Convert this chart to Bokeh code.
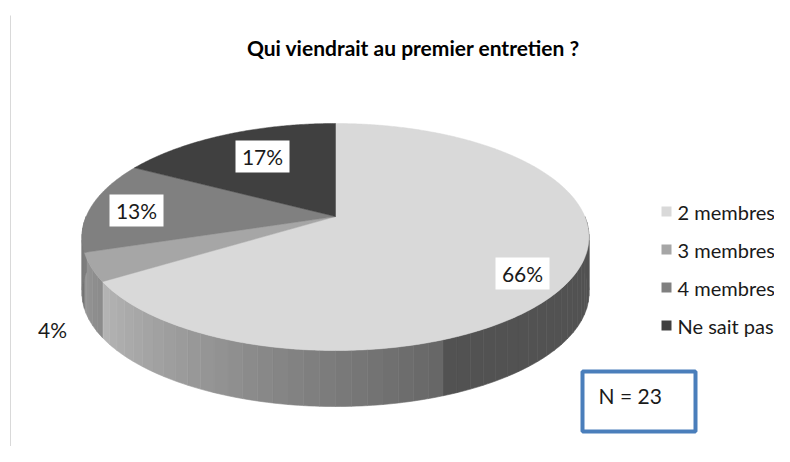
import numpy as np
from bokeh.plotting import figure
from bokeh.models import Range1d
from bokeh.embed import file_html
from bokeh.resources import INLINE
from bokeh.core.properties import value

# ---------------- data ----------------
title = "Qui viendrait au premier entretien ?"
categories = ["2 membres", "3 membres", "4 membres", "Ne sait pas"]
shares = [66, 4, 13, 17]
pct_labels = ["66%", "4%", "13%", "17%"]
colors = ["#d9d9d9", "#a6a6a6", "#808080", "#404040"]
n_text = "N = 23"

# ---------------- layout ----------------
W, H = 774, 446
FONT = "Lato"
p = figure(width=W, height=H, x_range=Range1d(0, W), y_range=Range1d(H, 0),
           output_backend="svg", toolbar_location=None, min_border=0)
p.axis.visible = False
p.grid.visible = False
p.outline_line_color = None
p.background_fill_color = "white"
p.border_fill_color = "white"

# perspective projection of the pie disc (screen-like coordinates)
CX, A, C0, D0, K, DEPTH = 335.0, 249.3, 216.0, -70.8, 0.1806, 56.0


def proj(theta_deg, r=1.0):
    t = np.radians(theta_deg)
    u = r * np.sin(t)
    v = r * np.cos(t)
    w = 1 + K * v
    return CX + A * u / w, (C0 + D0 * v) / w


def hex_gray(g):
    g = int(max(0, min(255, round(g))))
    return "#%02x%02x%02x" % (g, g, g)


def rgb_of(h):
    return int(h[1:3], 16)


total = float(sum(shares))
bounds = np.concatenate([[0.0], np.cumsum(shares) / total * 360.0])

# chart frame line on the left
p.line([10, 10], [15, 446], line_color="#d9d9d9", line_width=1)

# ---- sides (front half only) ----
side_xs, side_ys, side_cols = [], [], []
for i in range(len(shares)):
    a0, a1 = max(bounds[i], 90.0), min(bounds[i + 1], 270.0)
    if a1 <= a0:
        continue
    base = rgb_of(colors[i])
    edges = np.arange(a0, a1, 3.0).tolist() + [a1]
    for s0, s1 in zip(edges[:-1], edges[1:]):
        ts = np.linspace(s0, s1, 4)
        tx, ty = proj(ts)
        xs = list(tx) + list(tx[::-1])
        ys = list(ty) + list((ty + DEPTH)[::-1])
        mid = 0.5 * (s0 + s1)
        f = 0.38 if mid < 160 else 0.47 + (mid - 160) * 0.00473
        side_xs.append(xs)
        side_ys.append(ys)
        side_cols.append(hex_gray(base * f))
p.patches(side_xs, side_ys, fill_color=side_cols, line_color=side_cols, line_width=0.6)

# ---- top faces ----
top_xs, top_ys = [], []
for i in range(len(shares)):
    ts = np.linspace(bounds[i], bounds[i + 1], max(3, int((bounds[i + 1] - bounds[i]) * 2)))
    tx, ty = proj(ts)
    top_xs.append([CX] + list(tx))
    top_ys.append([C0] + list(ty))
p.patches(top_xs, top_ys, fill_color=colors, line_color=colors, line_width=0.5)

# ---- percentage labels ----
label_pos = {"66%": (522, 273), "4%": (52, 329), "13%": (136, 210), "17%": (262, 156)}
boxed = ["66%", "13%", "17%"]
bx, by = [], []
for lab in boxed:
    x, y = label_pos[lab]
    bx.append([x - 27, x + 27, x + 27, x - 27])
    by.append([y - 16, y - 16, y + 16, y + 16])
p.patches(bx, by, fill_color="white", line_color=None)
p.text([label_pos[l][0] for l in pct_labels], [label_pos[l][1] for l in pct_labels], text=pct_labels,
       text_font=value(FONT), text_font_size="21px", text_align="center", text_baseline="middle",
       text_color="#1a1a1a")

# ---- title ----
p.text([413], [47], text=[title], text_font=value(FONT), text_font_size="21px", text_font_style="bold",
       text_align="center", text_baseline="middle", text_color="#000000")

# ---- legend ----
ly = [211, 249, 287, 325]
p.scatter([666] * 4, ly, marker="square", size=10, fill_color=colors, line_color=None)
p.text([677] * 4, ly, text=categories, text_font=value(FONT), text_font_size="20px",
       text_align="left", text_baseline="middle", text_color="#1a1a1a")

# ---- N box ----
p.patch([582, 695, 695, 582], [371, 371, 431, 431], fill_color="white", line_color="#4a7ebb", line_width=4)
p.text([598], [395], text=[n_text], text_font=value(FONT), text_font_size="21px",
       text_align="left", text_baseline="middle", text_color="#1a1a1a")

open("out.html", "w").write(file_html(p, INLINE))
